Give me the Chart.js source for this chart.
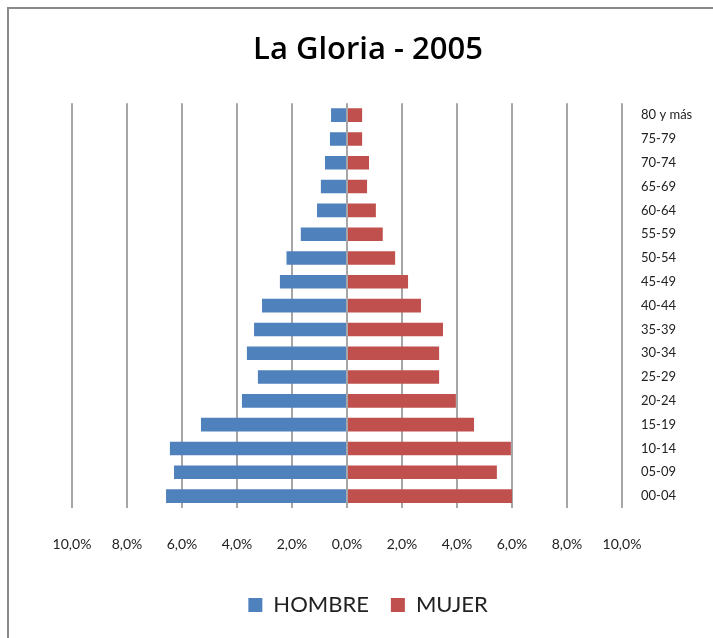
<!DOCTYPE html>
<html>
<head>
<meta charset="utf-8">
<script src="https://cdn.jsdelivr.net/npm/chart.js@4/dist/chart.umd.min.js"></script>
<style>
    html, body { margin: 0; padding: 0; background: #fff; overflow: hidden; }
    #marco { position: absolute; left: 7px; top: 7px; width: 760px; height: 700px;
             border-left: 2px solid #8a8a8a; border-top: 2px solid #8a8a8a; }
    #wrap { position: absolute; left: 0; top: 0; width: 713px; height: 638px; }
</style>
</head>
<body>
<div id="marco"></div>
<div id="wrap"><canvas id="piramide" width="713" height="638"></canvas></div>
<script>
// Grupos de edad (de abajo hacia arriba)
const grupos = ['00-04', '05-09', '10-14', '15-19', '20-24', '25-29', '30-34', '35-39',
    '40-44', '45-49', '50-54', '55-59', '60-64', '65-69', '70-74', '75-79', '80 y más'];

// Porcentajes (hombres en negativo para que vayan a la izquierda)
const hombre = [-6.58, -6.29, -6.44, -5.31, -3.82, -3.24, -3.64, -3.38,
    -3.09, -2.44, -2.20, -1.68, -1.09, -0.95, -0.80, -0.62, -0.58];
const mujer = [6.00, 5.45, 5.96, 4.62, 3.96, 3.35, 3.35, 3.49,
    2.69, 2.22, 1.75, 1.30, 1.05, 0.73, 0.80, 0.55, 0.55];

// Marcas del eje horizontal
const ticksX = [-10, -8, -6, -4, -2, 0, 2, 4, 6, 8, 10];

const fuente = "Lato, 'Open Sans', sans-serif";
const formatoPct = (v) => Math.abs(v).toFixed(1).replace('.', ',') + '%';

const ctx = document.getElementById('piramide').getContext('2d');

new Chart(ctx, {
    type: 'bar',
    data: {
        labels: grupos,
        datasets: [
            { label: 'HOMBRE', data: hombre, backgroundColor: '#4F81BD', categoryPercentage: 1, barPercentage: 0.57 },
            { label: 'MUJER', data: mujer, backgroundColor: '#C0504D', categoryPercentage: 1, barPercentage: 0.57 }
        ]
    },
    options: {
        indexAxis: 'y',
        responsive: false,
        animation: false,
        // padding izq. pequeño para centrar titulo y leyenda como en el original
        layout: { padding: { left: 23, right: 0, top: 0, bottom: 12 } },
        plugins: {
            title: {
                display: true,
                text: 'La Gloria - 2005',
                color: '#000',
                font: { family: "'Open Sans', sans-serif", size: 31, weight: '600' },
                padding: { top: 32, bottom: 34 }
            },
            legend: {
                position: 'bottom',
                labels: {
                    color: '#222',
                    font: { family: fuente, size: 22 },
                    usePointStyle: true,
                    pointStyle: 'rect',
                    boxWidth: 14,
                    boxHeight: 14,
                    padding: 22
                }
            },
            tooltip: { enabled: false }
        },
        scales: {
            x: {
                stacked: true,
                min: -10,
                max: 10,
                afterBuildTicks: (s) => { s.ticks = ticksX.map(v => ({ value: v })); },
                // lleva el borde izquierdo del area de trazado a x=72
                afterFit: (s) => { s.paddingLeft = 72; s.paddingRight = 0; s.height = 64; },
                grid: { color: '#a6a6a6', lineWidth: 2, drawTicks: false },
                border: { display: false },
                ticks: {
                    color: '#222',
                    font: { family: fuente, size: 14 },
                    padding: 28,
                    callback: (v) => formatoPct(v)
                }
            },
            y: {
                stacked: true,
                position: 'right',
                reverse: true,
                afterFit: (s) => { s.width = 91; s.paddingTop = 0; s.paddingBottom = 0; },
                grid: { display: false, drawTicks: false },
                border: { display: false },
                ticks: {
                    color: '#222',
                    font: { family: fuente, size: 13 },
                    padding: 19
                }
            }
        }
    }
});
</script>
</body>
</html>
